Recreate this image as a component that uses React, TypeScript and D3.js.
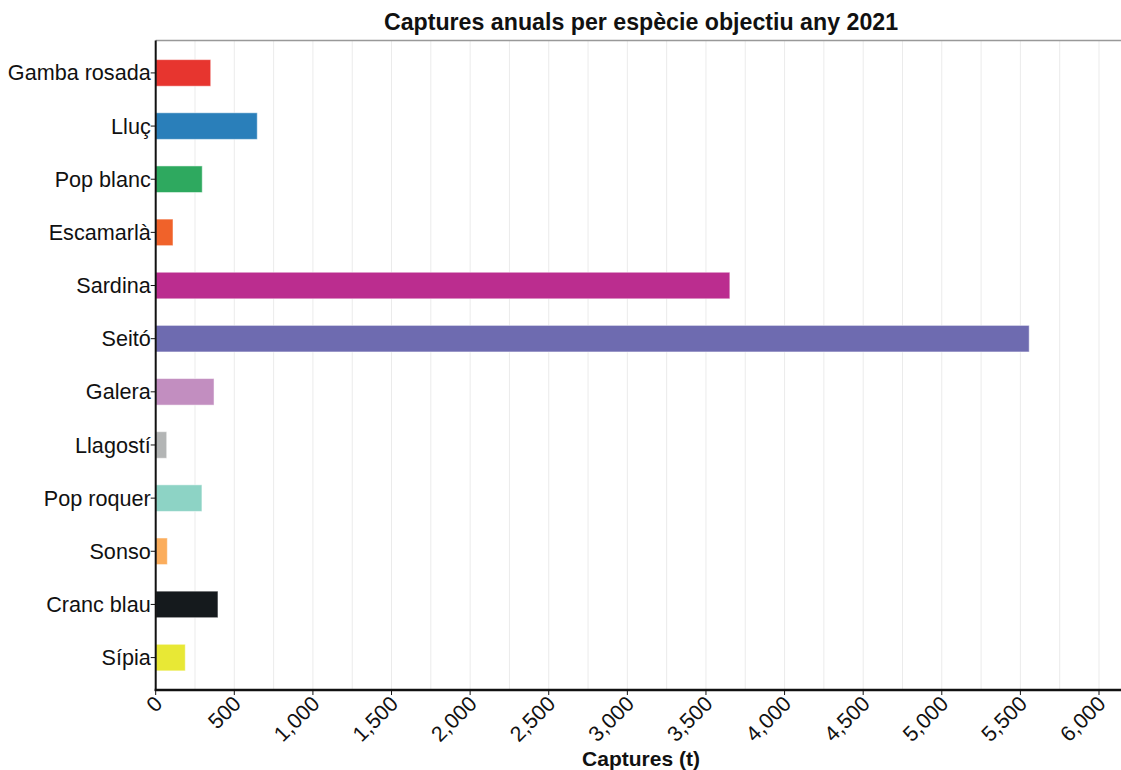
import React from "react";
import * as d3 from "d3";

const categories = ["Gamba rosada", "Lluç", "Pop blanc", "Escamarlà", "Sardina", "Seitó", "Galera", "Llagostí", "Pop roquer", "Sonso", "Cranc blau", "Sípia"];
const values = [350, 646, 296, 110, 3652, 5556, 371, 70, 294, 74, 396, 188];
const colors = ["#e7352f", "#2a7fba", "#2ea95f", "#f0622a", "#bb2d8f", "#6e6bb0", "#c28ec0", "#b3b5b5", "#8dd3c5", "#fbad5c", "#151a1d", "#e8e835"];
const xTicks = [0, 500, 1000, 1500, 2000, 2500, 3000, 3500, 4000, 4500, 5000, 5500, 6000];
const gridTicks = d3.range(0, 6251, 250);

export default function App() {
  const W = 1121, H = 770;
  const left = 155.7, right = 1121, top = 40.5, bottom = 690;
  const x = d3.scaleLinear().domain([0, 6000]).range([left, 1099]);
  const y = d3.scaleBand<string>().domain(categories).range([top, bottom]).paddingInner(0.5).paddingOuter(0.36);
  const font = "'Liberation Sans', Arial, sans-serif";
  const fmt = d3.format(",");
  return (
    <svg width={W} height={H} style={{ position: "absolute", left: 0, top: 0, background: "#fff" }} fontFamily={font}>
      <text x={641} y={30} textAnchor="middle" fontSize={23.2} fontWeight="bold" fill="#111">
        Captures anuals per espècie objectiu any 2021
      </text>
      {gridTicks.filter(t => t > 0 && x(t) < right).map(t => (
        <line key={t} x1={x(t)} x2={x(t)} y1={top} y2={bottom} stroke="#ebebeb" strokeWidth={1} />
      ))}
      <line x1={left} x2={right} y1={top} y2={top} stroke="#999" strokeWidth={1.5} />
      {categories.map((c, i) => (
        <rect key={c} x={x(0)} y={y(c)!} width={x(values[i]) - x(0)} height={y.bandwidth()} fill={colors[i]} stroke="#ffffff" strokeOpacity={0.5} strokeWidth={1} />
      ))}
      <line x1={left} x2={left} y1={top} y2={bottom + 1} stroke="#111" strokeWidth={2} />
      <line x1={left - 1} x2={right} y1={bottom} y2={bottom} stroke="#111" strokeWidth={2.5} />
      {categories.map(c => (
        <g key={c} transform={`translate(${left},${y(c)! + y.bandwidth() / 2})`}>
          <line x1={-5} x2={0} stroke="#111" strokeWidth={1} />
          <text x={-5} dy="0.35em" textAnchor="end" fontSize={21.6} fill="#111">{c}</text>
        </g>
      ))}
      {xTicks.map(t => (
        <g key={t} transform={`translate(${x(t)},${bottom})`}>
          <line y1={0} y2={5} stroke="#111" strokeWidth={1} />
          <text transform="translate(8,15) rotate(-45)" textAnchor="end" fontSize={21.5} fill="#111">{fmt(t)}</text>
        </g>
      ))}
      <text x={641} y={766} textAnchor="middle" fontSize={21} fontWeight="bold" fill="#111">Captures (t)</text>
    </svg>
  );
}
